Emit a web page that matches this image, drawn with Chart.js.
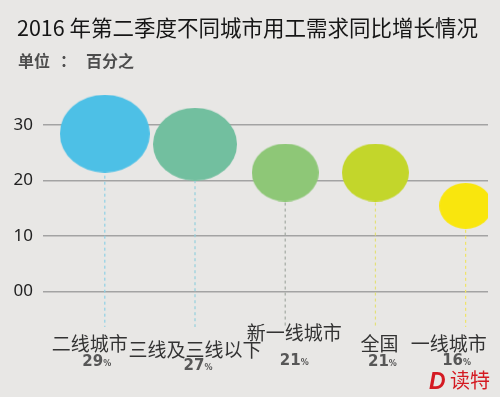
<!DOCTYPE html>
<html>
<head>
<meta charset="utf-8">
<script src="https://cdn.jsdelivr.net/npm/chart.js@4"></script>
<style>
  html, body { margin: 0; padding: 0; background: #e8e7e5; }
  #wrap { width: 500px; height: 397px; }
</style>
</head>
<body>
<div id="wrap"><canvas id="myChart" width="500" height="397"></canvas></div>
<script>
// data dari gambar
const cities = ["二线城市", "三线及三线以下", "新一线城市", "全国", "一线城市"];
const growth = [28.4, 26.5, 21.4, 21.4, 15.4]; // posisi titik pusat
const growthLabel = ["29", "27", "21", "21", "16"];
const yTicks = [0, 10, 20, 30];

const fillColors = ["#4dc0e6", "#72bf9f", "#8ec777", "#c3d62b", "#f9e60d"];
const dotColors = ["#1b9bd0", "#1aa98b", "#5fbfc6", "#5b9e27", "#a9b63a"];
const dashColors = ["#8fd1e6", "#93d0dc", "#a3aaa3", "#e3e07a", "#efe466"];

// offset label dari titik (gaya saja)
const nameShift = [-15, 0, 9, 4, -17];
const nameLift = [0, 6, -11, 0, 0];
const pctShift = [-8, 3, 9, 7, -9];
const pctLift = [0, 4, -1, 0, -1];

// gambar elips sebagai pointStyle
const ellipseCache = {};
function ellipse(i) {
    if (ellipseCache[i]) return ellipseCache[i];
    const hw = 3.8 + 1.42 * parseInt(growthLabel[i]);
    const hh = hw / 1.16;
    const c = document.createElement("canvas");
    c.width = Math.round(hw * 2);
    c.height = Math.round(hh * 2);
    const g = c.getContext("2d");
    g.fillStyle = fillColors[i];
    g.beginPath();
    g.ellipse(c.width / 2, c.height / 2, c.width / 2, c.height / 2, 0, 0, Math.PI * 2);
    g.fill();
    ellipseCache[i] = c;
    return c;
}

const points = growth.map((v, i) => ({ x: i, y: v }));

// judul + satuan
const headText = {
    id: "headText",
    afterDraw(chart) {
        const ctx = chart.ctx;
        ctx.save();
        ctx.textBaseline = "middle";
        ctx.textAlign = "left";
        ctx.fillStyle = "#161616";
        ctx.font = '21.5px "Noto Sans CJK SC"';
        ctx.fillText("2016 年第二季度不同城市用工需求同比增长情况", 17, 28);
        ctx.fillStyle = "#4d4d4d";
        ctx.font = 'bold 16px "Noto Sans CJK SC"';
        ctx.fillText("单位", 18, 61);
        ctx.fillText("：", 60, 61);
        ctx.fillText("百分之", 86, 61);
        ctx.restore();
    },
};

// garis putus-putus ke bawah
const dropLines = {
    id: "dropLines",
    beforeDatasetsDraw(chart) {
        const ctx = chart.ctx;
        const meta = chart.getDatasetMeta(0);
        ctx.save();
        ctx.lineWidth = 1.2;
        ctx.setLineDash([3, 3]);
        meta.data.forEach((pt, i) => {
            ctx.strokeStyle = dashColors[i];
            ctx.beginPath();
            ctx.moveTo(pt.x, pt.y);
            ctx.lineTo(pt.x, chart.chartArea.bottom);
            ctx.stroke();
        });
        ctx.restore();
    },
};

// nama kota + persen + logo
const bottomLabels = {
    id: "bottomLabels",
    afterDraw(chart) {
        const ctx = chart.ctx;
        const meta = chart.getDatasetMeta(0);
        ctx.save();
        ctx.textBaseline = "middle";
        meta.data.forEach((pt, i) => {
            ctx.textAlign = "center";
            ctx.fillStyle = "#333333";
            ctx.font = '19px "Noto Sans CJK SC"';
            ctx.fillText(cities[i], pt.x + nameShift[i], 344 + nameLift[i]);

            const px = pt.x + pctShift[i];
            const py = 362 + pctLift[i];
            ctx.fillStyle = "#575757";
            ctx.font = 'bold 15px "DejaVu Sans"';
            const w1 = ctx.measureText(growthLabel[i]).width;
            ctx.font = 'bold 8px "DejaVu Sans"';
            const w2 = ctx.measureText("%").width;
            const start = px - (w1 + w2) / 2;
            ctx.textAlign = "left";
            ctx.font = 'bold 15px "DejaVu Sans"';
            ctx.fillText(growthLabel[i], start, py);
            ctx.font = 'bold 8px "DejaVu Sans"';
            ctx.fillText("%", start + w1, py + 2);
        });

        // logo
        ctx.textBaseline = "alphabetic";
        ctx.textAlign = "left";
        ctx.fillStyle = "#d41a22";
        ctx.font = 'italic bold 23px "Liberation Sans"';
        ctx.fillText("D", 429, 389);
        ctx.font = '20px "Noto Sans CJK SC"';
        ctx.fillText("读特", 450, 388);
        ctx.restore();
    },
};

const ctx = document.getElementById("myChart");
const chart = new Chart(ctx, {
    type: "scatter",
    data: {
        datasets: [
            {
                label: "增长",
                data: points,
                pointStyle: (c) => ellipse(c.dataIndex),
                backgroundColor: fillColors,
                borderWidth: 0,
            },
            {
                label: "中心",
                data: points,
                pointRadius: 3.5,
                backgroundColor: dotColors,
                borderWidth: 0,
            },
        ],
    },
    plugins: [headText, dropLines, bottomLabels],
    options: {
        responsive: false,
        animation: false,
        events: [],
        layout: {
            padding: { left: 0, right: 12, top: 91.5, bottom: 70 },
        },
        plugins: {
            legend: { display: false },
            tooltip: { enabled: false },
        },
        scales: {
            x: {
                type: "linear",
                display: false,
                min: -0.685,
                max: 4.248,
            },
            y: {
                min: -6.43,
                max: 36,
                afterFit: (scale) => {
                    scale.width = 43;
                },
                afterBuildTicks: (scale) => {
                    scale.ticks = yTicks.map((v) => ({ value: v }));
                },
                ticks: {
                    padding: 10,
                    color: "#222222",
                    font: { family: '"Noto Sans"', size: 17 },
                    callback: (v) => (v === 0 ? "00" : String(v)),
                },
                grid: {
                    color: "#a3a3a3",
                    lineWidth: 1.5,
                    drawTicks: false,
                },
                border: { display: false },
            },
        },
    },
});
</script>
</body>
</html>
